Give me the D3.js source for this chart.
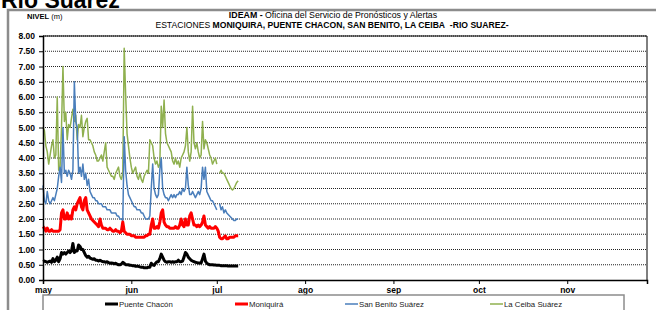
<!DOCTYPE html>
<html>
<head>
<meta charset="utf-8">
<script src="https://cdn.jsdelivr.net/npm/d3@7"></script>
<style>
  body { margin: 0; background: #fff; }
  svg { display: block; font-family: "Liberation Sans", Arial, sans-serif; }
</style>
</head>
<body>
<div id="chart"></div>
<script>
// Datos: niveles cada 12 horas desde el 1 de mayo
var inicio      =   new Date( 2011, 4, 1 );
var paso_horas  =   12;

var puente_chacon = [0.6,0.62,0.6,0.58,0.6,0.62,0.58,0.7,0.6,0.65,0.75,0.6,0.7,0.9,0.85,0.9,0.85,0.9,0.95,0.9,
  0.95,1.2,0.9,0.95,0.95,1.15,1.1,1.0,1.0,0.9,0.8,0.75,0.78,0.72,0.7,0.68,0.7,0.65,0.65,0.62,
  0.65,0.62,0.6,0.6,0.58,0.6,0.57,0.55,0.56,0.55,0.53,0.55,0.52,0.5,0.5,0.52,0.58,0.55,0.5,0.5,
  0.5,0.48,0.48,0.47,0.47,0.45,0.45,0.45,0.43,0.42,0.42,0.4,0.4,0.4,0.42,0.42,0.55,0.5,0.48,0.55,
  0.6,0.6,0.7,0.85,0.75,0.65,0.6,0.58,0.6,0.6,0.58,0.6,0.58,0.6,0.6,0.65,0.6,0.6,0.62,0.75,
  0.9,0.85,0.75,0.7,0.65,0.62,0.6,0.58,0.57,0.56,0.56,0.56,0.7,0.85,0.62,0.55,0.52,0.5,0.5,0.5,
  0.49,0.49,0.48,0.48,0.48,0.47,0.47,0.47,0.47,0.47,0.46,0.46,0.46,0.46,0.46,0.46,0.46,0.46];

var moniquira = [1.75,1.7,1.6,1.7,1.6,1.6,1.65,1.6,1.6,1.6,1.6,1.6,1.65,2.2,2.3,2.0,2.0,2.2,2.0,2.1,
  2.0,2.3,2.4,2.3,2.5,2.6,2.7,2.4,2.3,2.6,2.7,2.3,2.2,2.1,2.0,1.95,1.9,1.85,1.8,1.75,
  2.0,1.8,1.7,1.7,1.7,1.65,1.65,1.7,1.65,1.6,1.6,1.65,1.6,1.6,1.55,1.6,1.9,1.6,1.55,1.5,
  1.5,1.5,1.45,1.45,1.45,1.4,1.4,1.4,1.4,1.4,1.4,1.4,1.45,1.45,1.5,1.5,1.8,2.0,1.7,1.7,
  1.75,1.7,1.9,2.2,2.3,1.9,1.8,1.75,1.75,1.7,1.7,1.7,1.7,1.75,1.7,1.7,1.8,2.0,1.8,1.75,
  2.0,1.8,1.8,2.1,2.2,2.0,1.8,1.8,1.75,1.8,1.75,1.8,1.9,2.1,1.8,1.75,1.7,1.75,1.7,1.7,
  1.7,1.75,1.7,1.6,1.4,1.35,1.35,1.4,1.45,1.35,1.35,1.4,1.4,1.4,1.4,1.45,1.45,1.45];

var san_benito = [3.1,2.6,2.5,2.9,2.6,2.5,2.6,2.7,2.6,2.8,3.0,3.4,3.7,3.2,5.0,3.5,3.6,3.4,3.6,3.5,
  3.3,3.6,6.5,5.2,5.0,3.5,3.7,3.4,3.8,3.3,3.5,3.1,3.3,2.9,2.8,2.7,2.7,2.6,2.6,2.5,
  2.5,2.5,2.4,2.4,2.4,2.3,2.3,2.3,2.2,2.2,2.2,2.2,2.1,2.1,2.0,2.0,1.95,4.7,3.6,3.1,
  2.8,2.7,2.6,2.5,2.4,2.4,2.3,2.3,2.3,2.2,2.2,2.1,2.0,2.0,2.0,2.1,3.0,3.8,3.0,2.8,
  2.7,2.8,3.6,4.0,3.0,2.8,2.7,2.7,2.6,2.7,2.8,2.7,2.8,2.7,2.8,2.8,2.9,2.8,3.0,2.9,
  3.0,3.7,3.1,2.8,2.8,2.9,2.8,2.7,2.8,2.9,2.8,3.0,3.7,3.3,3.7,2.9,2.8,2.7,2.6,2.6,
  2.5,2.4,2.3,null,2.5,2.3,2.4,2.2,2.3,2.2,2.15,2.1,2.05,2.0,1.95,1.95,2.0,2.0];

var la_ceiba = [5.0,4.9,4.4,4.2,3.8,4.1,4.4,4.6,4.0,4.1,6.0,3.6,3.7,5.0,7.0,5.2,5.5,4.6,5.1,5.0,
  5.3,5.6,5.2,5.4,4.6,5.1,5.0,5.4,4.7,5.0,5.2,5.3,4.6,4.6,4.5,4.4,4.2,4.1,3.9,3.9,
  4.0,4.1,3.9,4.2,4.5,3.7,3.6,3.5,3.4,3.4,3.3,3.5,3.6,3.7,3.4,3.3,3.5,7.6,6.1,4.8,
  4.4,4.0,3.7,3.5,3.6,3.7,3.4,3.3,3.5,3.3,3.2,3.4,3.5,3.6,3.5,4.6,4.5,4.4,4.0,3.8,
  3.9,3.7,3.8,5.7,5.0,5.9,4.8,4.5,4.4,4.3,4.2,3.9,3.8,4.0,3.8,3.9,3.7,4.0,4.1,4.2,
  4.4,5.0,4.2,3.9,4.2,5.7,4.5,4.3,4.5,4.2,4.0,4.1,5.2,4.3,4.6,4.5,4.3,4.1,4.0,3.8,
  3.9,4.0,3.8,null,3.5,3.6,3.5,3.5,3.4,3.3,3.2,3.1,3.0,2.95,3.0,3.1,3.2,3.25];

var series = [
    { nombre: 'Puente Chacón',      valores: puente_chacon, color: '#000000', ancho: 3 },
    { nombre: 'Moniquirá',          valores: moniquira,     color: '#ff0000', ancho: 3 },
    { nombre: 'San Benito  Suárez', valores: san_benito,    color: '#4a7ebb', ancho: 1.5 },
    { nombre: 'La Ceiba  Suárez',   valores: la_ceiba,      color: '#8fb04f', ancho: 1.5 }
];

var meses        = ['may','jun','jul','ago','sep','oct','nov'];
var fechas_meses = [ new Date(2011,4,1), new Date(2011,5,1), new Date(2011,6,1), new Date(2011,7,1),
                     new Date(2011,8,1), new Date(2011,9,1), new Date(2011,10,1) ];
var ticks_y      = [0,0.5,1,1.5,2,2.5,3,3.5,4,4.5,5,5.5,6,6.5,7,7.5,8];

var fechas = puente_chacon.map(function( d, i ){
    return d3.timeHour.offset( inicio, i * paso_horas );
});

// SVG
var chart_width  = 656;
var chart_height = 310;
var m = { left: 43, right: 647, top: 36, bottom: 280 };

var svg = d3.select('#chart')
    .append('svg')
    .attr('width', chart_width)
    .attr('height', chart_height);

// Titulo grande (cortado arriba)
svg.append('text')
    .attr('x', 1).attr('y', 8)
    .attr('font-size', 23).attr('font-weight', 'bold')
    .text('Río Suárez');

// marco gris
svg.append('path')
    .attr('d', 'M8,320 V10 H670')
    .attr('fill', 'none').attr('stroke', '#8c8c8c').attr('stroke-width', 2.5);

var x = d3.scaleTime()
    .domain([ new Date(2011,4,1), new Date(2011,10,29) ])
    .range([ m.left, m.right ]);

var y = d3.scaleLinear()
    .domain([0, 8])
    .range([ m.bottom, m.top ]);

// Encabezados
svg.append('text')
    .attr('x', 27).attr('y', 19)
    .attr('font-size', 7.5)
    .html('<tspan font-weight="bold">NIVEL</tspan> (m)');

svg.append('text')
    .attr('x', 333).attr('y', 18)
    .attr('text-anchor', 'middle')
    .attr('font-size', 8.8)
    .html('<tspan font-weight="bold">IDEAM - </tspan>Oficina del Servicio de Pronósticos y Alertas');

svg.append('text')
    .attr('x', 332).attr('y', 28)
    .attr('text-anchor', 'middle')
    .attr('font-size', 8.6)
    .html('ESTACIONES <tspan font-weight="bold">MONIQUIRA, PUENTE CHACON, SAN BENITO, LA CEIBA&#160; -RIO SUAREZ-</tspan>');

// Cuadricula punteada
svg.selectAll('.grid')
    .data(ticks_y.slice(1))
    .enter()
    .append('line')
    .attr('class', 'grid')
    .attr('x1', m.left).attr('x2', m.right)
    .attr('y1', function( d ){ return y(d); })
    .attr('y2', function( d ){ return y(d); })
    .attr('stroke', '#222')
    .attr('stroke-width', 1)
    .attr('stroke-dasharray', '1,1');

// borde derecho y superior
svg.append('path')
    .attr('d', 'M' + m.left + ',' + m.top + ' H' + m.right + ' V' + m.bottom)
    .attr('fill', 'none').attr('stroke', '#000').attr('stroke-width', 1);

// Lineas
var linea = d3.line()
    .defined(function( d ){ return d[1] !== null; })
    .x(function( d ){ return x(d[0]); })
    .y(function( d ){ return y(d[1]); });

svg.selectAll('.serie')
    .data(series.slice().reverse())
    .enter()
    .append('path')
    .attr('class', 'serie')
    .attr('d', function( s ){
        return linea( s.valores.map(function( v, i ){ return [ fechas[i], v ]; }) );
    })
    .attr('fill', 'none')
    .attr('stroke', function( s ){ return s.color; })
    .attr('stroke-width', function( s ){ return s.ancho; })
    .attr('stroke-linejoin', 'round');

// Ejes
var eje_y = svg.append('g')
    .attr('transform', 'translate(' + m.left + ',0)')
    .call( d3.axisLeft(y).tickValues(ticks_y).tickFormat(d3.format('.2f')).tickSize(4) );

var eje_x = svg.append('g')
    .attr('transform', 'translate(0,' + m.bottom + ')')
    .call( d3.axisBottom(x).tickValues(fechas_meses)
        .tickFormat(function( d, i ){ return meses[i]; }).tickSize(4) );

[eje_y, eje_x].forEach(function( g ){
    g.select('.domain').attr('stroke', '#000').attr('stroke-width', 1.5);
    g.selectAll('.tick line').attr('stroke', '#000');
    g.selectAll('text')
        .attr('font-family', '"Liberation Sans", Arial, sans-serif')
        .attr('font-size', 8.5)
        .attr('font-weight', 'bold')
        .attr('fill', '#000');
});
eje_y.selectAll('text').attr('x', -8);
eje_x.selectAll('text').attr('y', 7);

// Leyenda
svg.append('rect')
    .attr('x', 43).attr('y', 295)
    .attr('width', 581).attr('height', 30)
    .attr('fill', '#fff')
    .attr('stroke', '#8c8c8c').attr('stroke-width', 1.5);

var pos_leyenda = [105, 235, 345, 490];

var items = svg.selectAll('.item')
    .data(series)
    .enter()
    .append('g')
    .attr('class', 'item')
    .attr('transform', function( d, i ){ return 'translate(' + pos_leyenda[i] + ',304)'; });

items.append('line')
    .attr('x1', 0).attr('x2', 13)
    .attr('y1', 0).attr('y2', 0)
    .attr('stroke', function( d ){ return d.color; })
    .attr('stroke-width', function( d ){ return d.ancho; });

items.append('text')
    .attr('x', 14).attr('y', 2.8)
    .attr('font-size', 7.8)
    .attr('fill', '#222')
    .text(function( d ){ return d.nombre; });
</script>
</body>
</html>
